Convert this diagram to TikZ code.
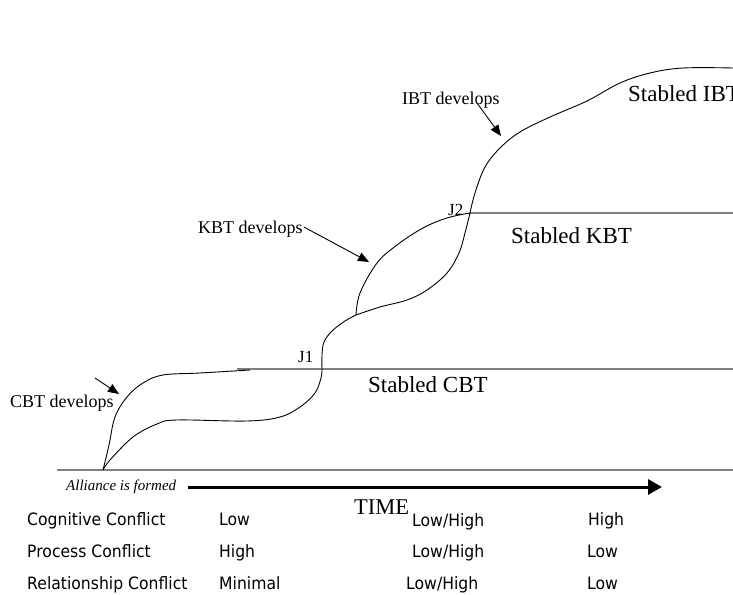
\documentclass[tikz,border=0pt]{standalone}
\usepackage{fontspec}
\setmainfont{Liberation Serif}
\newfontfamily\tabfont[FakeStretch=0.92]{DejaVu Sans}
\usetikzlibrary{arrows.meta}
\tikzset{
  lvl/.style={draw=black!50, line width=1.4pt},
  curve/.style={draw=black, line width=0.9pt},
  devlabel/.style={font=\fontsize{18}{20}\selectfont, inner sep=0pt, anchor=base west},
  stablabel/.style={font=\fontsize{23}{25}\selectfont, inner sep=0pt, anchor=base west},
  jlabel/.style={font=\fontsize{17}{19}\selectfont, inner sep=0pt, anchor=base west},
  tabtext/.style={font=\tabfont\fontsize{17}{19}\selectfont, inner sep=0pt, anchor=base west},
  pointer/.style={draw=black, line width=0.9pt, -{Triangle[length=11pt,width=9pt]}},
}
\begin{document}
\begin{tikzpicture}[x=1pt,y=-1pt]
\useasboundingbox (0,0) rectangle (733,594);
% key points
\coordinate (O) at (103,470);
\coordinate (J1p) at (322,369);
\coordinate (S) at (356,315);
\coordinate (J2p) at (470,213);
\coordinate (base0) at (57,470);
\coordinate (base1) at (733,470);
\coordinate (cbt0) at (237,369);
\coordinate (cbt1) at (733,369);
\coordinate (kbt1) at (733,213);
% level lines
\draw[lvl] (base0) -- (base1);
\draw[lvl] (cbt0) -- (cbt1);
\draw[lvl] (J2p) -- (kbt1);
% CBT curves
\draw[curve] plot[smooth, tension=0.6] coordinates {(O) (109,445) (115,417) (127,397) (143,383) (163,375) (200,373) (250,370)};
\draw[curve] plot[smooth, tension=0.6] coordinates {(O) (110,460) (133,437) (157,424) (177,420) (247,421) (280,417) (300,407) (315,393) (321,378) (J1p)};
% J1 to split
\draw[curve] plot[smooth, tension=0.6] coordinates {(J1p) (322,355) (324,342) (332,331) (345,321) (S)};
% KBT curves
\draw[curve] plot[smooth, tension=0.6] coordinates {(S) (360,293) (377,263) (397,245) (423,228) (447,218) (J2p)};
\draw[curve] plot[smooth, tension=0.6] coordinates {(S) (380,307) (407,300) (427,290) (447,273) (459,253) (465,233) (J2p)};
% IBT curve
\draw[curve] plot[smooth, tension=0.6] coordinates {(J2p) (475,193) (485,167) (500,148) (520,132) (550,117) (587,101) (620,83) (650,73) (683,68) (733,68)};
% labels
\node[stablabel] (sibt) at (628,101) {Stabled IBT};
\node[stablabel] (skbt) at (511,243) {Stabled KBT};
\node[stablabel] (scbt) at (368,392) {Stabled CBT};
\node[devlabel] (ibtd) at (402,104) {IBT develops};
\node[devlabel] (kbtd) at (198,233) {KBT develops};
\node[devlabel] (cbtd) at (10,407) {CBT develops};
\node[jlabel] (j1) at (298,362) {J1};
\node[jlabel] (j2) at (448,215) {J2};
% pointers
\coordinate (ibtA) at (477,103);
\coordinate (ibtB) at (501,136);
\draw[pointer] (ibtA) -- (ibtB);
\coordinate (kbtB) at (369,262);
\draw[pointer] (kbtd.base east) ++(1,-6) coordinate (kbtA) -- (kbtB);
\coordinate (cbtA) at (95,378);
\coordinate (cbtB) at (119,394);
\draw[pointer] (cbtA) -- (cbtB);
% time axis
\node[font=\itshape\fontsize{15}{17}\selectfont, inner sep=0pt, anchor=base west] (all) at (66,490) {Alliance is formed};
\coordinate (tstart) at (188,487);
\coordinate (tend) at (662,487);
\draw[line width=3pt, -{Triangle[length=14pt,width=15pt]}] (tstart) -- (tend);
\node[font=\fontsize{22.5}{24}\selectfont, inner sep=0pt, anchor=base west] (time) at (354,514) {TIME};
% table
\node[tabtext] (r1) at (27,525) {Cognitive Conflict};
\node[tabtext] (r1a) at (219,525) {Low};
\node[tabtext] (r1b) at (412,526) {Low/High};
\node[tabtext] (r1c) at (588,525) {High};
\node[tabtext] (r2) at (27,557) {Process Conflict};
\node[tabtext] (r2a) at (219,557) {High};
\node[tabtext] (r2b) at (412,557) {Low/High};
\node[tabtext] (r2c) at (587,557) {Low};
\node[tabtext] (r3) at (27,589) {Relationship Conflict};
\node[tabtext] (r3a) at (219,589) {Minimal};
\node[tabtext] (r3b) at (406,589) {Low/High};
\node[tabtext] (r3c) at (587,589) {Low};
\end{tikzpicture}
\end{document}
